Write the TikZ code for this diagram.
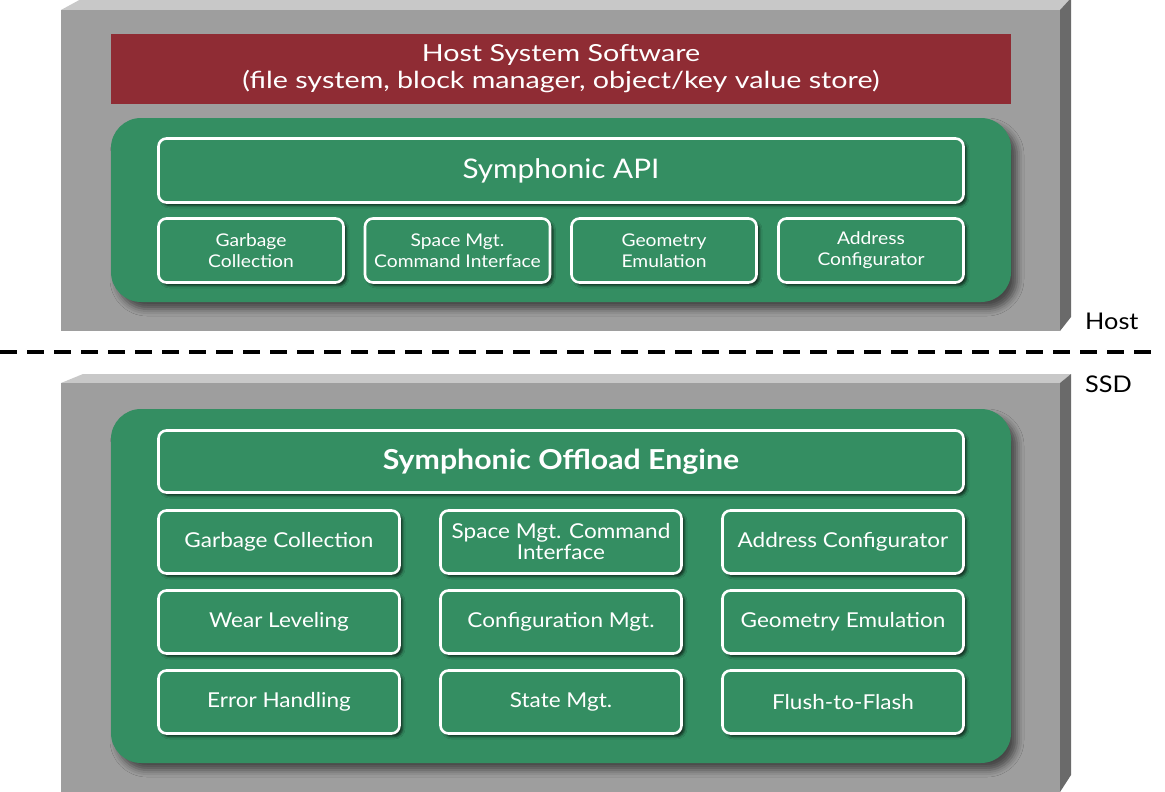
\documentclass[tikz,border=0pt]{standalone}
\usepackage{fontspec}
\setmainfont{Lato}[FakeStretch=1.1]
\newfontfamily\widefont{Lato}[FakeStretch=1.22]
\usetikzlibrary{shadows.blur}

\definecolor{hostred}{HTML}{8F2C34}
\definecolor{symgreen}{HTML}{348E62}
\definecolor{slabfront}{HTML}{9E9E9E}
\definecolor{slabtop}{HTML}{C8C8C8}
\definecolor{slabside}{HTML}{6A6A6A}

\tikzset{
    panel/.style={fill=symgreen, rounded corners=30pt, minimum width=900pt,
        inner sep=0pt, blur shadow={shadow xshift=6pt, shadow yshift=-7pt,
        shadow blur radius=7pt, shadow opacity=55}},
    module/.style={draw=white, line width=2.6pt, fill=symgreen, rounded corners=8pt,
        text=white, align=center, inner sep=0pt, blur shadow={shadow xshift=3pt,
        shadow yshift=-3pt, shadow blur radius=2.5pt, shadow opacity=70}},
    smallmod/.style={module, minimum width=185pt, minimum height=64pt,
        font=\fontsize{17.5}{21}\selectfont},
    gridmod/.style={module, minimum width=241pt, minimum height=63pt,
        font=\fontsize{20.5}{21}\selectfont},
    sidelabel/.style={anchor=west, inner sep=0pt, font=\fontsize{23}{27}\selectfont}
}

\begin{document}
\begin{tikzpicture}[x=1pt, y=-1pt]
    \useasboundingbox (0,0) rectangle (1165,792);

    % host slab
    \fill[slabtop] (61,10) -- (83,-2) -- (1071,-2) -- (1060,10) -- cycle;
    \fill[slabside] (1060,10) -- (1071,-2) -- (1071,317) -- (1060,331) -- cycle;
    \fill[slabfront] (61,10) rectangle (1060,331);

    % ssd slab
    \fill[slabtop] (61,383) -- (83,374) -- (1071,374) -- (1060,383) -- cycle;
    \fill[slabside] (1060,383) -- (1071,374) -- (1071,775) -- (1060,792) -- cycle;
    \fill[slabfront] (61,383) rectangle (1060,800);

    \node[fill=hostred, text=white, minimum width=900pt, minimum height=70pt,
        inner sep=0pt, align=center, font=\widefont\fontsize{23.5}{27}\selectfont] (hss) at (561,69)
        {Host System Software\\(file system, block manager, object/key value store)};

    % host side
    \node[panel, minimum height=184pt] (hostpanel) at (561,210) {};
    \node[module, minimum width=805pt, minimum height=64pt,
        font=\fontsize{27}{30}\selectfont] (api) at (561,170.5) {Symphonic API};
    \node[smallmod] (hgc) at (251,250.5) {Garbage\\Collection};
    \node[smallmod] (hsm) at (457.5,250.5) {Space Mgt.\\Command Interface};
    \node[smallmod] (hge) at (664,250.5) {Geometry\\Emulation};
    \node[smallmod] (hac) at (871,250.5) {Address\\Configurator};

    % ssd side
    \node[panel, minimum height=354pt] (ssdpanel) at (561,586) {};
    \node[module, minimum width=805pt, minimum height=62pt,
        font=\bfseries\fontsize{27.5}{30}\selectfont] (soe) at (561,461.5) {Symphonic Offload Engine};
    \node[gridmod] (sgc) at (279,542) {Garbage Collection};
    \node[gridmod] (ssm) at (561,542) {Space Mgt. Command\\Interface};
    \node[gridmod] (sac) at (843,542) {Address Configurator};
    \node[gridmod] (swl) at (279,622) {Wear Leveling};
    \node[gridmod] (scm) at (561,622) {Configuration Mgt.};
    \node[gridmod] (sge) at (843,622) {Geometry Emulation};
    \node[gridmod] (seh) at (279,702) {Error Handling};
    \node[gridmod] (ssg) at (561,702) {State Mgt.};
    \node[gridmod] (sff) at (843,702) {Flush-to-Flash};

    % boundary
    \coordinate (cutL) at (0,352);
    \coordinate (cutR) at (1156,352);
    \draw[line width=3.5pt, dash pattern=on 17pt off 10pt] (cutL) -- (cutR);
    \node[sidelabel] (host) at (1085,321) {Host};
    \node[sidelabel] (ssd) at (1085,384) {SSD};
\end{tikzpicture}
\end{document}
